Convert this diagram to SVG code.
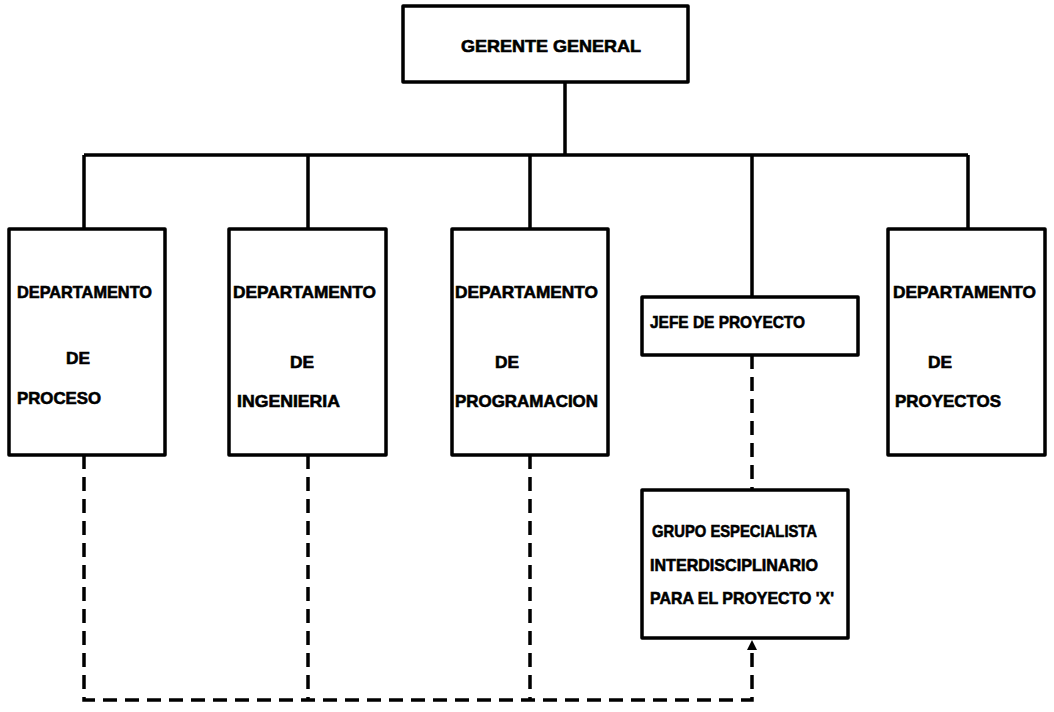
<svg xmlns="http://www.w3.org/2000/svg" width="1054" height="712" viewBox="0 0 1054 712">
<style>
.box{fill:#fff;stroke:#000;stroke-width:3.5;stroke-linejoin:round}
.ln{fill:none;stroke:#000;stroke-width:3.5}
.dash{fill:none;stroke:#000;stroke-width:3.5;stroke-dasharray:14 8}
text{font-family:"Liberation Sans",Arial,sans-serif;font-weight:bold;font-size:17px;fill:#000;stroke:#000;stroke-width:0.6}
</style>
<defs>
<marker id="arr" markerWidth="10" markerHeight="12" refX="2" refY="5" orient="auto" markerUnits="userSpaceOnUse">
<path d="M0,0 L10,5 L0,10 z" fill="#000"/>
</marker>
</defs>
<rect width="1054" height="712" fill="#fff"/>
<g id="connectors">
<path class="ln" d="M565,82 V155 M84,155 H968 M84,155 V229 M308,155 V229 M530,155 V229 M752,155 V297 M968,155 V229"/>
<path class="dash" d="M752,355 V490"/>
<path class="dash" d="M84,455 V700 H752 V648" marker-end="url(#arr)"/>
<path class="dash" d="M308,455 V700 M530,455 V700"/>
</g>
<g id="gerente">
<rect class="box" x="403" y="6" width="285" height="76"/>
<text x="461" y="52" textLength="180" lengthAdjust="spacingAndGlyphs">GERENTE GENERAL</text>
</g>
<g id="proceso">
<rect class="box" x="9" y="229" width="156" height="226"/>
<text x="17" y="298" textLength="135" lengthAdjust="spacingAndGlyphs">DEPARTAMENTO</text>
<text x="66" y="364" textLength="24" lengthAdjust="spacingAndGlyphs">DE</text>
<text x="17" y="404" textLength="84" lengthAdjust="spacingAndGlyphs">PROCESO</text>
</g>
<g id="ingenieria">
<rect class="box" x="229" y="229" width="157" height="226"/>
<text x="233" y="298" textLength="143" lengthAdjust="spacingAndGlyphs">DEPARTAMENTO</text>
<text x="290" y="368" textLength="24" lengthAdjust="spacingAndGlyphs">DE</text>
<text x="237" y="407" textLength="103" lengthAdjust="spacingAndGlyphs">INGENIERIA</text>
</g>
<g id="programacion">
<rect class="box" x="452" y="229" width="156" height="226"/>
<text x="455" y="298" textLength="143" lengthAdjust="spacingAndGlyphs">DEPARTAMENTO</text>
<text x="495" y="368" textLength="24" lengthAdjust="spacingAndGlyphs">DE</text>
<text x="455" y="407" textLength="143" lengthAdjust="spacingAndGlyphs">PROGRAMACION</text>
</g>
<g id="jefe">
<rect class="box" x="642" y="297" width="216" height="58"/>
<text x="650" y="328" textLength="155" lengthAdjust="spacingAndGlyphs">JEFE DE PROYECTO</text>
</g>
<g id="proyectos">
<rect class="box" x="888" y="229" width="157" height="226"/>
<text x="893" y="298" textLength="143" lengthAdjust="spacingAndGlyphs">DEPARTAMENTO</text>
<text x="928" y="368" textLength="24" lengthAdjust="spacingAndGlyphs">DE</text>
<text x="895" y="407" textLength="106" lengthAdjust="spacingAndGlyphs">PROYECTOS</text>
</g>
<g id="grupo">
<rect class="box" x="642" y="490" width="206" height="148"/>
<text x="652" y="537" textLength="165" lengthAdjust="spacingAndGlyphs">GRUPO ESPECIALISTA</text>
<text x="650" y="571" textLength="168" lengthAdjust="spacingAndGlyphs">INTERDISCIPLINARIO</text>
<text x="650" y="604" textLength="184" lengthAdjust="spacingAndGlyphs">PARA EL PROYECTO 'X'</text>
</g>
</svg>
